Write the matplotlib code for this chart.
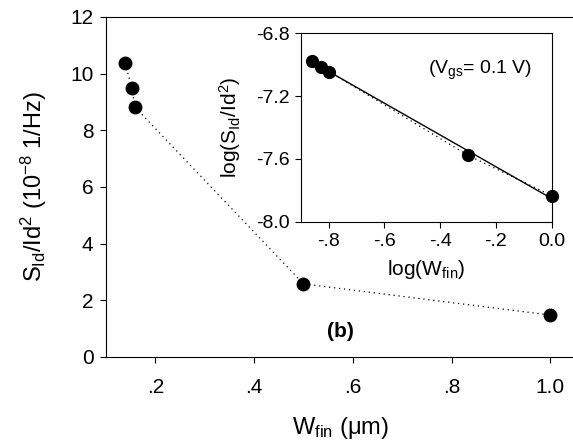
import numpy as np
import matplotlib
matplotlib.use("Agg")
import matplotlib.pyplot as plt

plt.rcParams['font.family'] = ['Liberation Sans', 'DejaVu Sans']
plt.rcParams['mathtext.fontset'] = 'custom'
plt.rcParams['mathtext.rm'] = 'Liberation Sans'
plt.rcParams['mathtext.it'] = 'Liberation Sans:italic'
plt.rcParams['mathtext.bf'] = 'Liberation Sans:bold'

# main panel: noise vs fin width
w_fin = [0.139, 0.152, 0.159, 0.50, 1.00]
s_norm = [10.37, 9.50, 8.81, 2.58, 1.48]

# inset: log-log
log_w = [-0.858, -0.828, -0.797, -0.300, 0.0]
log_s = [-6.976, -7.013, -7.045, -7.577, -7.834]

main_xticks = [0.2, 0.4, 0.6, 0.8, 1.0]
main_xlabels = ['.2', '.4', '.6', '.8', '1.0']
main_yticks = [0, 2, 4, 6, 8, 10, 12]
inset_xticks = [-0.8, -0.6, -0.4, -0.2, 0.0]
inset_xlabels = ['-.8', '-.6', '-.4', '-.2', '0.0']
inset_yticks = [-8.0, -7.6, -7.2, -6.8]
inset_ylabels = ['-8.0', '-7.6', '-7.2', '-6.8']

fig = plt.figure(figsize=(5.73, 4.41), dpi=100)

ax = fig.add_axes([0.185, 0.1905, 0.8185, 0.771])
ax.plot(w_fin, s_norm, color='black', linestyle=(0, (1, 3)), linewidth=0.9)
ax.plot(w_fin, s_norm, 'o', color='black', markersize=9, clip_on=False)
ax.set_xlim(0.1, 1.05)
ax.set_ylim(0, 12)
ax.set_xticks(main_xticks)
ax.set_xticklabels(main_xlabels)
ax.set_yticks(main_yticks)
ax.tick_params(direction='out', length=4, width=0.8, labelsize=15, pad=5)
ax.tick_params(axis='x', pad=11)
ax.set_ylabel(r'$\mathrm{S_{Id}/Id^2\ (10^{-8}\ 1/Hz)}$', fontsize=17, labelpad=15)
ax.set_xlabel(r'$\mathrm{W_{fin}}$ ($\mathrm{\mu}$m)', fontsize=17, labelpad=13)
ax.text(0.574, 0.9, '(b)', fontsize=15, fontweight='bold', ha='center', va='center')

ins = fig.add_axes([0.5248, 0.4973, 0.438, 0.4272])
fit = np.polyfit(log_w, log_s, 1)
fx = np.array([log_w[0], log_w[-1]])
ins.plot(fx, np.polyval(fit, fx), color='black', linewidth=1.0)
ins.plot(log_w, log_s, color='black', linestyle=(0, (1, 3)), linewidth=0.9)
ins.plot(log_w, log_s, 'o', color='black', markersize=8.5, clip_on=False)
ins.set_xlim(-0.9, 0.0)
ins.set_ylim(-8.0, -6.8)
ins.set_xticks(inset_xticks)
ins.set_xticklabels(inset_xlabels)
ins.set_yticks(inset_yticks)
ins.set_yticklabels(inset_ylabels)
ins.tick_params(direction='out', length=4, width=0.8, labelsize=14, pad=4)
ins.set_xlabel(r'$\mathrm{log(W_{fin})}$', fontsize=15, labelpad=6)
ins.set_ylabel(r'$\mathrm{log(S_{Id}/Id^2)}$', fontsize=15, labelpad=9)
ins.text(-0.255, -7.035, r'$\mathrm{(V_{gs}}$= 0.1 V)', fontsize=14, ha='center', va='center')

fig.savefig('out.png', dpi=100)
